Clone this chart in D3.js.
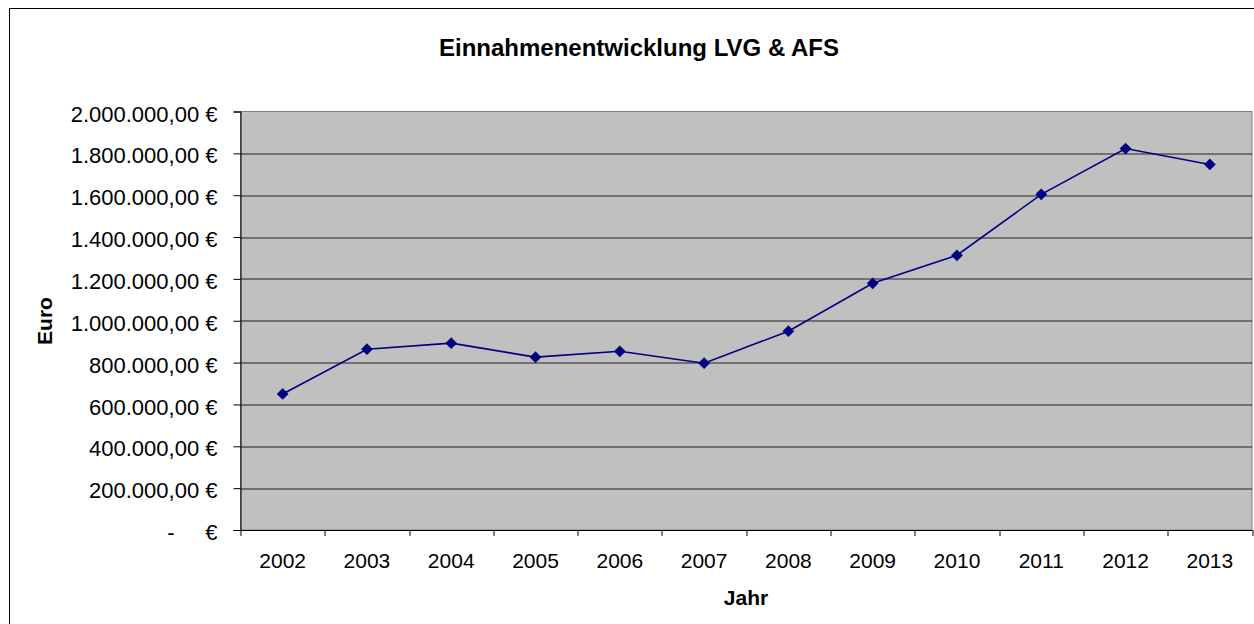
<!DOCTYPE html>
<html lang="de">
<head>
<meta charset="utf-8">
<title>Einnahmenentwicklung LVG & AFS</title>
<script src="https://cdn.jsdelivr.net/npm/d3@7"></script>
<style>
  body { margin: 0; background: #fff; }
  svg text { font-family: "Liberation Sans", Arial, sans-serif; fill: #000; }
</style>
</head>
<body>
<script>
// chart data
var years = ["2002", "2003", "2004", "2005", "2006", "2007", "2008", "2009", "2010", "2011", "2012", "2013"];
var einnahmen = [650000, 864000, 893000, 826000, 854000, 797000, 950000, 1179000, 1313000, 1604000, 1823000, 1747000];
var yTicks = [0, 200000, 400000, 600000, 800000, 1000000, 1200000, 1400000, 1600000, 1800000, 2000000];

var W = 1254, H = 624;
var margin = {top: 111.5, right: 2, bottom: 94, left: 240.5};
var w = W - margin.left - margin.right;
var h = H - margin.top - margin.bottom;

var svg = d3.select("body").append("svg")
    .attr("width", W)
    .attr("height", H);

// outer chart border
svg.append("rect")
    .attr("x", 9.5).attr("y", 8.5)
    .attr("width", 1260).attr("height", 640)
    .attr("fill", "#fff")
    .attr("stroke", "#000")
    .attr("stroke-width", 1);

var g = svg.append("g")
    .attr("transform", "translate(" + margin.left + "," + margin.top + ")");

var xScale = d3.scaleBand().domain(years).range([0, w]);
var yScale = d3.scaleLinear().domain([0, 2000000]).range([h, 0]);

// plot area
g.append("rect")
    .attr("width", w).attr("height", h)
    .attr("fill", "#c0c0c0")
    .attr("stroke", "#808080")
    .attr("stroke-width", 1);

// gridlines
g.selectAll(".grid")
    .data(yTicks.slice(1, -1))
    .enter().append("line")
    .attr("class", "grid")
    .attr("x1", 0).attr("x2", w)
    .attr("y1", function(d) { return Math.round(yScale(d)) + 0.5; })
    .attr("y2", function(d) { return Math.round(yScale(d)) + 0.5; })
    .attr("stroke", "#222")
    .attr("stroke-width", 1);

// number format like Excel (de)
var fmt = d3.formatLocale({decimal: ",", thousands: ".", grouping: [3], currency: ["", " €"]}).format(",.2f");

// y axis
var yAxis = d3.axisLeft(yScale).tickValues(yTicks).tickSize(7).tickFormat("");
var yg = g.append("g").call(yAxis);
yg.select(".domain").attr("stroke", "#000");
yg.selectAll(".tick line").attr("stroke", "#000");

var ylab = g.selectAll(".ylab")
    .data(yTicks)
    .enter().append("g")
    .attr("class", "ylab")
    .attr("transform", function(d) { return "translate(0," + yScale(d) + ")"; });
ylab.append("text")
    .attr("x", function(d) { return d === 0 ? -66 : -23; })
    .attr("dy", "0.46em")
    .attr("text-anchor", "end")
    .style("font-size", "22px")
    .text(function(d) { return d === 0 ? "-" : fmt(d) + " €"; });
ylab.filter(function(d) { return d === 0; })
    .append("text")
    .attr("x", -23)
    .attr("dy", "0.46em")
    .attr("text-anchor", "end")
    .style("font-size", "22px")
    .text("€");

// x axis
var xAxis = d3.axisBottom(xScale).tickSize(0).tickPadding(22);
var xg = g.append("g")
    .attr("transform", "translate(0," + h + ")")
    .call(xAxis);
xg.select(".domain").attr("stroke", "#000");
xg.selectAll(".tick text")
    .attr("y", 0).attr("dy", 38)
    .style("font-size", "21px")
    .style("font-family", "'Liberation Sans', Arial, sans-serif");

// category boundary ticks
g.selectAll(".xtick")
    .data(years.concat(["end"]))
    .enter().append("line")
    .attr("class", "xtick")
    .attr("x1", function(d, i) { return Math.round(i * xScale.step()) + 0.5; })
    .attr("x2", function(d, i) { return Math.round(i * xScale.step()) + 0.5; })
    .attr("y1", h).attr("y2", h + 6)
    .attr("stroke", "#000");

// line
var line = d3.line()
    .x(function(d, i) { return xScale(years[i]) + xScale.bandwidth() / 2; })
    .y(function(d) { return yScale(d); });

g.append("path")
    .datum(einnahmen)
    .attr("d", line)
    .attr("fill", "none")
    .attr("stroke", "#000080")
    .attr("stroke-width", 1.6);

g.selectAll(".marker")
    .data(einnahmen)
    .enter().append("path")
    .attr("class", "marker")
    .attr("d", d3.symbol().type(d3.symbolDiamond2).size(88))
    .attr("transform", function(d, i) {
        return "translate(" + (xScale(years[i]) + xScale.bandwidth() / 2) + "," + yScale(d) + ")";
    })
    .attr("fill", "#000080");

// title and axis titles
svg.append("text")
    .attr("x", 639).attr("y", 56)
    .attr("text-anchor", "middle")
    .style("font-size", "24px")
    .style("font-weight", "bold")
    .text("Einnahmenentwicklung LVG & AFS");

svg.append("text")
    .attr("x", 746).attr("y", 605)
    .attr("text-anchor", "middle")
    .style("font-size", "21px")
    .style("font-weight", "bold")
    .text("Jahr");

svg.append("text")
    .attr("transform", "translate(52,321) rotate(-90)")
    .attr("text-anchor", "middle")
    .style("font-size", "21px")
    .style("font-weight", "bold")
    .text("Euro");
</script>
</body>
</html>
